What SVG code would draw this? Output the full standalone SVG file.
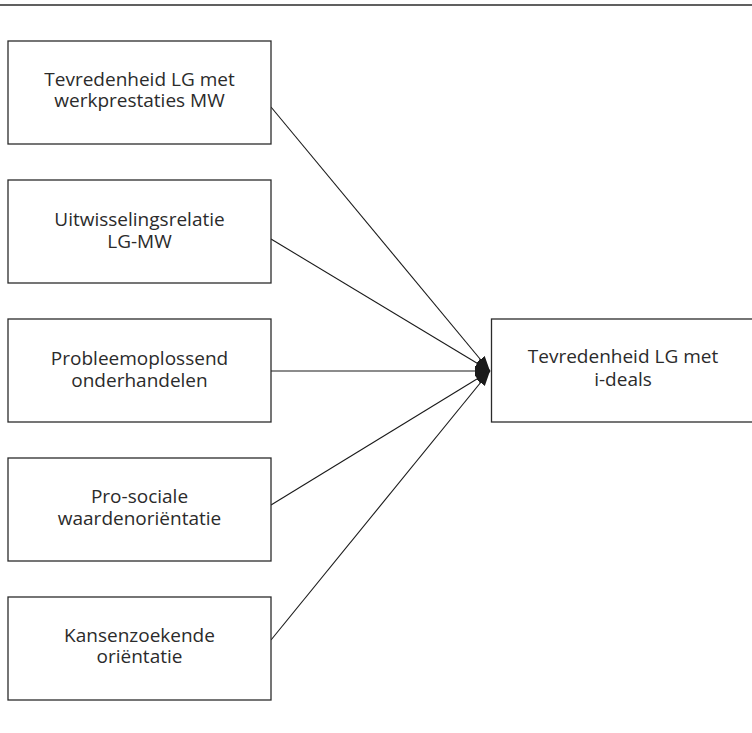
<svg xmlns="http://www.w3.org/2000/svg" width="752" height="733" viewBox="0 0 752 733">
<defs>
<style>
.box{fill:#fff;stroke:#2b2b2b;stroke-width:1.3}
.lbl{font-family:"Open Sans","Liberation Sans",sans-serif;font-size:19px;fill:#2b2b2b;text-anchor:middle}
.conn{stroke:#1a1a1a;stroke-width:1.1;fill:none;marker-end:url(#arr)}
</style>
<marker id="arr" markerUnits="userSpaceOnUse" markerWidth="16" markerHeight="12" refX="15" refY="5.5" orient="auto">
<path d="M0,0 L15,5.5 L0,11 Z" fill="#1a1a1a"/>
</marker>
</defs>
<rect width="752" height="733" fill="#fff"/>
<line x1="0" y1="5" x2="752" y2="5" stroke="#2b2b2b" stroke-width="1.5"/>
<g id="connectors">
<line class="conn" x1="271" y1="107" x2="490" y2="371"/>
<line class="conn" x1="271" y1="239" x2="490" y2="371"/>
<line class="conn" x1="271" y1="371" x2="490" y2="371"/>
<line class="conn" x1="271" y1="505" x2="490" y2="371"/>
<line class="conn" x1="271" y1="640" x2="490" y2="371"/>
</g>
<g id="n1"><rect class="box" x="8" y="41" width="263" height="103"/>
<text class="lbl" x="139.5" y="86">Tevredenheid LG met</text><text class="lbl" x="139.5" y="107">werkprestaties MW</text></g>
<g id="n2"><rect class="box" x="8" y="180" width="263" height="103"/>
<text class="lbl" x="139.5" y="226">Uitwisselingsrelatie</text><text class="lbl" x="139.5" y="248">LG-MW</text></g>
<g id="n3"><rect class="box" x="8" y="319" width="263" height="103"/>
<text class="lbl" x="139.5" y="365">Probleemoplossend</text><text class="lbl" x="139.5" y="387">onderhandelen</text></g>
<g id="n4"><rect class="box" x="8" y="458" width="263" height="103"/>
<text class="lbl" x="139.5" y="503">Pro-sociale</text><text class="lbl" x="139.5" y="525">waardenoriëntatie</text></g>
<g id="n5"><rect class="box" x="8" y="597" width="263" height="103"/>
<text class="lbl" x="139.5" y="642">Kansenzoekende</text><text class="lbl" x="139.5" y="663">oriëntatie</text></g>
<g id="n6"><rect class="box" x="491.5" y="319" width="264" height="103"/>
<text class="lbl" x="623" y="363">Tevredenheid LG met</text><text class="lbl" x="623" y="386">i-deals</text></g>
</svg>
